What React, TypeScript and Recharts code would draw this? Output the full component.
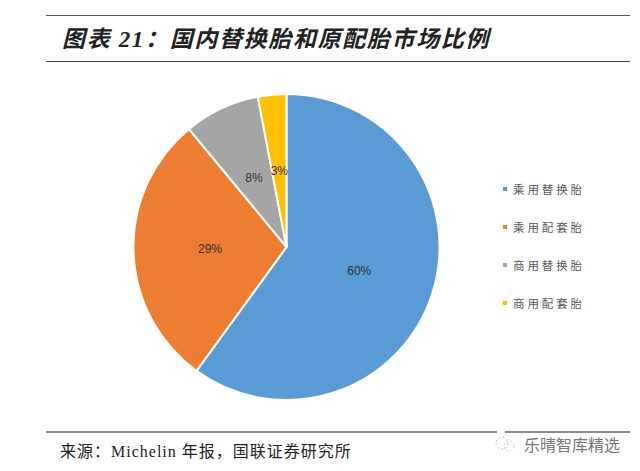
import React from "react";
import { PieChart, Pie, Cell, Legend } from "recharts";

const categories = ["乘用替换胎", "乘用配套胎", "商用替换胎", "商用配套胎"];
const shares = [60, 29, 8, 3];
const colors = ["#5B9BD5", "#ED7D31", "#A5A5A5", "#FFC000"];
const rows = categories.map((name, i) => ({ name, value: shares[i] }));

const serif = '"Liberation Serif", "Noto Sans CJK SC", serif';
const RAD = Math.PI / 180;

function renderLabel(p: any) {
  const r = p.outerRadius * 0.5;
  const x = p.cx + r * Math.cos(-p.midAngle * RAD);
  const y = p.cy + r * Math.sin(-p.midAngle * RAD);
  return (
    <text x={x} y={y} textAnchor="middle" dominantBaseline="central" fontSize={12} fill="#333" fontFamily='"Liberation Sans", sans-serif'>
      {`${p.value}%`}
    </text>
  );
}

function LegendList() {
  return (
    <div style={{ width: 100 }}>
      {categories.map((c, i) => (
        <div key={c} style={{ height: 38, display: "flex", alignItems: "center", fontFamily: '"Noto Sans CJK SC"', fontSize: 11.5, letterSpacing: 2.9, color: "#595959", whiteSpace: "nowrap" }}>
          <span style={{ width: 4, height: 4, background: colors[i], marginRight: 6, display: "inline-block" }} />
          {c}
        </div>
      ))}
    </div>
  );
}

const line = (top: number, left: number, width: number, h: number, bg: string) => (
  <div style={{ position: "absolute", top, left, width, height: h, background: bg }} />
);

export default function App() {
  return (
    <div style={{ position: "fixed", left: 0, top: 0, width: 640, height: 471, background: "#fff", overflow: "hidden" }}>
      {line(15, 46, 584, 1, "#555")}
      {line(61, 46, 584, 1, "#444")}
      {line(431, 46, 451, 2, "#8a8a8a")}
      {line(431, 505, 125, 2, "#8a8a8a")}
      <div style={{ position: "absolute", left: 62, top: 24, fontFamily: serif, fontStyle: "italic", fontWeight: 700, fontSize: 23, lineHeight: "32px", color: "#222", whiteSpace: "nowrap", letterSpacing: 1.65 }}>
        图表 21：国内替换胎和原配胎市场比例
      </div>
      <div style={{ position: "absolute", left: 60, top: 442, fontFamily: serif, fontSize: 16, lineHeight: "20px", color: "#222", whiteSpace: "nowrap", letterSpacing: 1 }}>
        来源：Michelin 年报，国联证券研究所
      </div>
      <svg style={{ position: "absolute", left: 490, top: 434 }} width={28} height={20}>
        <circle cx={12} cy={9} r={6} fill="none" stroke="#bbb" strokeDasharray="2 2" />
        <circle cx={19} cy={12} r={5} fill="none" stroke="#ccc" strokeDasharray="2 2" />
      </svg>
      <div style={{ position: "absolute", left: 524, top: 434, fontFamily: '"Noto Sans CJK SC"', fontSize: 16, lineHeight: "20px", color: "#777", whiteSpace: "nowrap", letterSpacing: 0 }}>
        乐晴智库精选
      </div>
      <div style={{ position: "absolute", left: 0, top: 0 }}>
        <PieChart width={640} height={471} margin={{ top: 0, right: 0, bottom: 0, left: 0 }}>
          <Pie
            data={rows}
            dataKey="value"
            nameKey="name"
            cx={286.5}
            cy={247}
            outerRadius={153}
            startAngle={90}
            endAngle={-270}
            stroke="#fffdf5"
            strokeWidth={2}
            label={renderLabel}
            labelLine={false}
            isAnimationActive={false}
          >
            {rows.map((r, i) => (
              <Cell key={r.name} fill={colors[i]} />
            ))}
          </Pie>
          <Legend content={<LegendList />} layout="vertical" wrapperStyle={{ left: 503, top: 170, width: 110 }} />
        </PieChart>
      </div>
    </div>
  );
}
